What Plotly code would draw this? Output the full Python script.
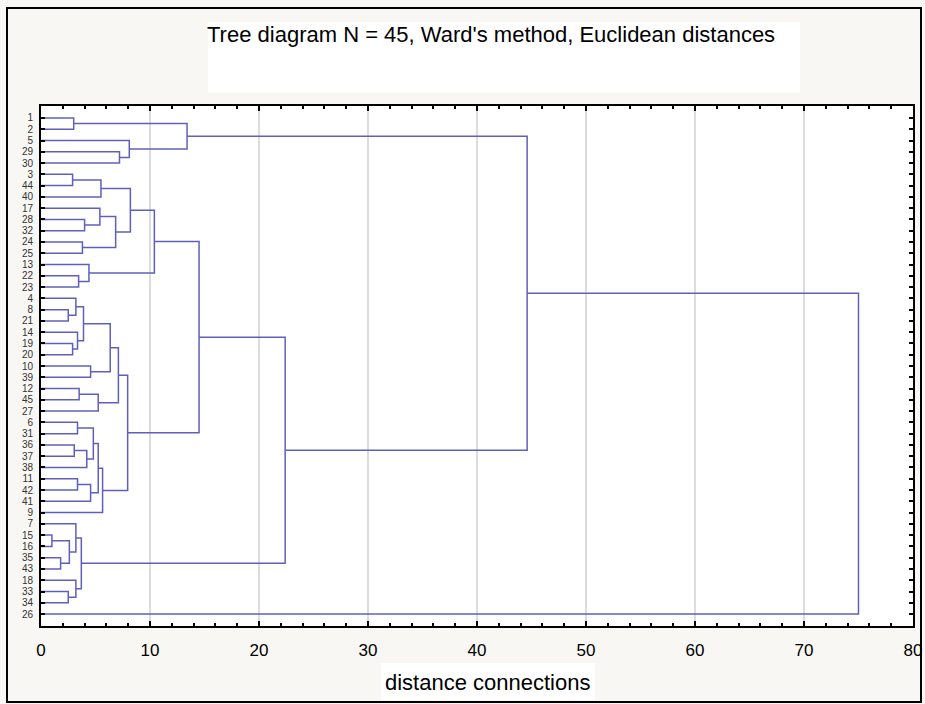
import plotly.graph_objects as go

# Leaf order (top to bottom) as shown on the y axis
leaf_labels = [1, 2, 5, 29, 30, 3, 44, 40, 17, 28, 32, 24, 25, 13, 22, 23,
               4, 8, 21, 14, 19, 20, 10, 39, 12, 45, 27, 6, 31, 36, 37, 38,
               11, 42, 41, 9, 7, 15, 16, 35, 43, 18, 33, 34, 26]

# Linkage: ints are leaf labels, "#k" refers to merge k
merge_a = [1, 29, 5, "#0", 3, "#4", 28, 17, 24, "#7", "#5", 22, 13, "#10",
           8, 4, 19, 14, "#15", 10, "#18", 12, "#21", "#20", 6, 36, "#25",
           "#24", 11, "#28", "#27", "#30", "#23", "#13", 15, 35, "#34", 7,
           33, 18, "#37", "#33", "#3", "#42"]
merge_b = [2, 30, "#1", "#2", 44, 40, 32, "#6", 25, "#8", "#9", 23, "#11",
           "#12", 21, "#14", 20, "#16", "#17", 39, "#19", 45, 27, "#22", 31,
           37, 38, "#26", 42, 41, "#29", 9, "#31", "#32", 16, 43, "#35",
           "#36", 34, "#38", "#39", "#40", "#41", 26]
merge_h = [3.0, 7.2, 8.1, 13.4, 2.9, 5.5, 4.0, 5.4, 3.8, 6.85, 8.2, 3.45,
           4.4, 10.4, 2.5, 3.2, 2.9, 3.35, 3.9, 4.55, 6.35, 3.5, 5.25, 7.1,
           3.35, 3.05, 4.2, 4.8, 3.35, 4.55, 5.25, 5.65, 7.95, 14.5, 1.0,
           1.8, 2.6, 3.2, 2.5, 3.2, 3.7, 22.4, 44.6, 75.0]

x_ticks = [0, 10, 20, 30, 40, 50, 60, 70, 80]

title_text = "Tree diagram N = 45, Ward's method, Euclidean distances"
x_title = "distance connections"

# ---- compute dendrogram line geometry from the linkage ----
leaf_pos = {lab: i + 1 for i, lab in enumerate(leaf_labels)}
node_y, node_h = [], []


def node(ref):
    if isinstance(ref, str):
        k = int(ref[1:])
        return node_y[k], node_h[k]
    return leaf_pos[ref], 0.0


xs, ys = [], []
for a, b, h in zip(merge_a, merge_b, merge_h):
    ya, ha = node(a)
    yb, hb = node(b)
    xs += [ha, h, h, hb, None]
    ys += [ya, ya, yb, yb, None]
    node_y.append((ya + yb) / 2)
    node_h.append(h)

line_color = "#6060bc"
font_fam = "Liberation Sans, Arial, sans-serif"

fig = go.Figure()
fig.add_trace(go.Scatter(x=xs, y=ys, mode="lines",
                         line=dict(color=line_color, width=1.5),
                         hoverinfo="skip", showlegend=False))

L, R, T, B = 41, 12, 106, 78
W, H = 925, 704
pw, ph = W - L - R, H - T - B


def px(xp):
    return (xp - L) / pw


def py(yp):
    return (H - B - yp) / ph


shapes = [
    # outer frame
    dict(type="rect", xref="paper", yref="paper",
         x0=px(7), x1=px(921), y0=py(702), y1=py(8),
         line=dict(color="black", width=2), fillcolor="rgba(0,0,0,0)",
         layer="below"),
    # title box
    dict(type="rect", xref="paper", yref="paper",
         x0=px(208), x1=px(800), y0=py(93), y1=py(22),
         line=dict(width=0), fillcolor="white", layer="below"),
    # axis-title box
    dict(type="rect", xref="paper", yref="paper",
         x0=px(381), x1=px(595), y0=py(700), y1=py(663),
         line=dict(width=0), fillcolor="white", layer="below"),
]

annotations = [
    dict(text=title_text, xref="paper", yref="paper", x=px(491), y=py(34),
         xanchor="center", yanchor="middle", showarrow=False,
         font=dict(family=font_fam, size=22, color="black")),
    dict(text=x_title, xref="paper", yref="paper", x=px(487), y=py(682),
         xanchor="center", yanchor="middle", showarrow=False,
         font=dict(family=font_fam, size=22, color="black")),
]

fig.update_layout(
    width=W, height=H, autosize=False,
    margin=dict(l=L, r=R, t=T, b=B, autoexpand=False),
    paper_bgcolor="#f8f7f3",
    plot_bgcolor="white",
    shapes=shapes,
    annotations=annotations,
    showlegend=False,
)

fig.update_xaxes(
    range=[0, 80], tickvals=x_ticks, ticktext=[str(v) for v in x_ticks],
    showgrid=True, gridcolor="#dcdcdc", gridwidth=1.5,
    zeroline=False, showline=True, linecolor="black", linewidth=2,
    mirror="ticks", ticks="inside", ticklen=5, tickcolor="black", tickwidth=1.5,
    minor=dict(dtick=2, ticks="inside", ticklen=3, tickcolor="black",
               showgrid=False),
    tickfont=dict(family=font_fam, size=17, color="black"),
    ticklabelstandoff=8, automargin=False,
)
fig.update_yaxes(
    range=[46.06, -0.06], tickvals=list(range(1, len(leaf_labels) + 1)),
    ticktext=[str(v) for v in leaf_labels],
    showgrid=False, zeroline=False, showline=True, linecolor="black",
    linewidth=2, mirror="ticks", ticks="inside", ticklen=4,
    tickcolor="black", tickwidth=1.5,
    tickfont=dict(family=font_fam, size=10, color="#333333"),
    ticklabelstandoff=4, automargin=False,
)

fig.write_html("out.html",
               config={"responsive": False, "displayModeBar": False},
               post_script="document.body.style.margin='0';"
                           "document.body.style.overflow='hidden';")
